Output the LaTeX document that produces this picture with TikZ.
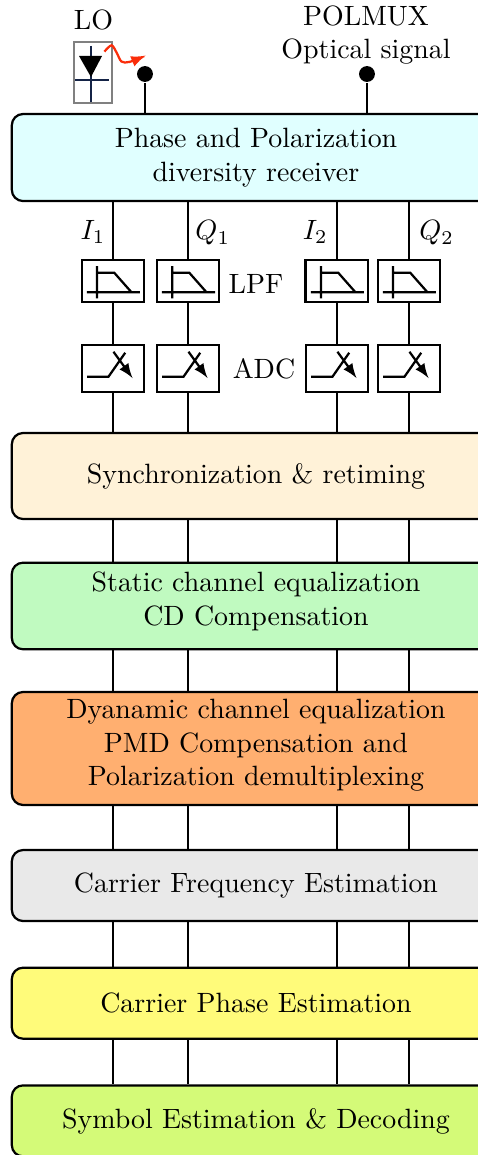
\documentclass[tikz,border=0pt]{standalone}
\usepackage{amsmath}
\usepackage{tikz}
\usetikzlibrary{positioning, arrows, calc}

\definecolor{rxcol}{HTML}{E0FFFF}
\definecolor{synccol}{HTML}{FFF2D8}
\definecolor{cdcol}{HTML}{C0FAC0}
\definecolor{dyncol}{HTML}{FFAF70}
\definecolor{cfecol}{HTML}{E9E9E9}
\definecolor{cpecol}{HTML}{FFFB7A}
\definecolor{symcol}{HTML}{D4FA78}
\definecolor{wavecol}{RGB}{250,45,10}
\definecolor{lodark}{RGB}{20,35,70}

\begin{document}
\begin{tikzpicture}[thick, node distance=0.56cm,
    block/.style={draw, rounded corners=4pt, minimum width=6.15cm, align=center, inner sep=2pt},
    filt/.style={draw, minimum width=0.79cm, minimum height=0.53cm, path picture={
        \draw[shift={(path picture bounding box.center)}] (-0.33,-0.145) -- (0.34,-0.145)
          (-0.2,0.186) -- (-0.2,-0.22) (-0.2,0.102) -- (0.016,0.102) -- (0.234,-0.145);}},
    conv/.style={draw, minimum width=0.78cm, minimum height=0.59cm, path picture={
        \draw[shift={(path picture bounding box.center)}] (-0.327,-0.106) -- (-0.057,-0.106) -- (0.154,0.196);
        \draw[shift={(path picture bounding box.center)}, -latex] (0.006,0.209) -- (0.246,-0.122);}},
    pin/.style={circle, fill, inner sep=0pt, minimum size=0.2cm}]
  \useasboundingbox (0,0) rectangle (6.02,-14.547);

  % blocks
  \node[block, fill=rxcol, minimum height=1.096cm] (rx) at (3.224,-1.984) {Phase and Polarization\\ diversity receiver};
  \node[block, fill=synccol, minimum height=1.083cm] (sync) at (3.224,-5.995) {Synchronization \& retiming};
  \node[block, fill=cdcol, minimum height=1.09cm, text depth=5.2pt] (cd) at (3.224,-7.632) {Static channel equalization\\ CD Compensation};
  \node[block, fill=dyncol, minimum height=1.423cm, text depth=4.3pt] (dyn) at (3.224,-9.427) {Dyanamic channel equalization\\ PMD Compensation and\\ Polarization demultiplexing};
  \node[block, fill=cfecol, minimum height=0.894cm] (cfe) at (3.224,-11.153) {Carrier Frequency Estimation};
  \node[block, fill=cpecol, minimum height=0.894cm] (cpe) [below=0.56cm of cfe] {Carrier Phase Estimation};
  \node[block, fill=symcol, minimum height=0.894cm] (sym) [below=0.56cm of cpe] {Symbol Estimation \& Decoding};

  % inputs
  \node (lolab) at (1.178,-0.252) {LO};
  \node[align=center] (siglab) at (4.61,-0.44) {POLMUX\\ Optical signal};
  \node[draw=gray, thin, minimum width=0.479cm, minimum height=0.768cm, inner sep=0pt] (lo) at (1.171,-0.913) {};
  \draw[lodark] (1.146,-0.579) -- (1.146,-1.285) (0.945,-1.008) -- (1.373,-1.008);
  \fill (0.995,-0.705) -- (1.285,-0.705) -- (1.146,-0.970) -- cycle;
  \draw[wavecol, -latex] plot[smooth] coordinates {(1.315,-0.650) (1.405,-0.570) (1.470,-0.665) (1.530,-0.775) (1.630,-0.780) (1.835,-0.700)};
  \node[pin] (lopin) at (1.826,-0.932) {};
  \node[pin] (sigpin) at (4.622,-0.932) {};
  \draw (lopin) -- (lopin |- rx.north);
  \draw (sigpin) -- (sigpin |- rx.north);

  % front end
  \foreach \x/\n in {1.423/1, 2.368/2, 4.244/3, 5.151/4} {
    \node[filt] (lpf\n) at (\x,-3.537) {};
    \node[conv] (adc\n) at (\x,-4.639) {};
    \draw (rx.south -| lpf\n) -- (lpf\n);
    \draw (lpf\n) -- (adc\n);
    \draw (adc\n) -- (sync.north -| adc\n);
    \foreach \a/\b in {sync/cd, cd/dyn, dyn/cfe, cfe/cpe, cpe/sym}
      \draw (\a.south -| lpf\n) -- (\b.north -| lpf\n);
  }
  \node (i1) at (1.17,-2.92) {$I_1$};
  \node (q1) at (2.68,-2.935) {$Q_1$};
  \node (i2) at (3.97,-2.92) {$I_2$};
  \node (q2) at (5.50,-2.935) {$Q_2$};
  \node (lpflab) at (3.224,-3.577) {LPF};
  \node (adclab) at (3.325,-4.647) {ADC};
\end{tikzpicture}
\end{document}
